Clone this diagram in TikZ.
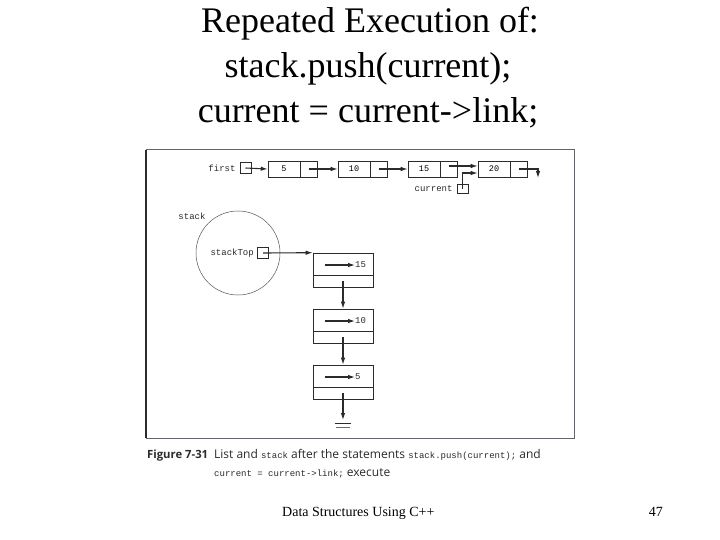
\documentclass[tikz,border=0pt]{standalone}
\usepackage{fontspec}
\setmainfont{Liberation Serif}
\setsansfont{Open Sans}
\setmonofont{Liberation Mono}
\usepackage{xcolor}
\usetikzlibrary{arrows.meta,positioning,calc}
\definecolor{figink}{HTML}{2B2B2B}
\definecolor{figframe}{HTML}{62666C}
\newcommand\capcodefont{\ttfamily\fontsize{9}{10}\selectfont}

\begin{document}
\begin{tikzpicture}[x=1pt, y=-1pt,
    titleline/.style={anchor=base, font=\fontsize{36}{45}\selectfont},
    codetext/.style={font=\ttfamily\fontsize{9}{10}\selectfont, text=figink, inner sep=0pt},
    infocell/.style={draw=figink, line width=0.6pt, minimum width=32pt, minimum height=16pt, inner sep=0pt, font=\ttfamily\fontsize{8.5}{10}\selectfont},
    linkcell/.style={draw=figink, line width=0.6pt, minimum width=17pt, minimum height=16pt, inner sep=0pt},
    ptrbox/.style={draw=figink, line width=0.6pt, minimum width=11pt, minimum height=11pt, inner sep=0pt},
    stackinfo/.style={draw=figink, line width=0.6pt, minimum width=60pt, minimum height=22pt, inner sep=0pt},
    stacklink/.style={draw=figink, line width=0.6pt, minimum width=60pt, minimum height=12pt, inner sep=0pt},
    arrow/.style={-{Latex[length=7pt, width=4.5pt]}, line width=1.1pt, color=figink},
    captext/.style={anchor=base west, inner sep=0pt, font=\sffamily\fontsize{12}{14}\selectfont, text=figink}
  ]
    \fill[white] (0,0) rectangle (720,540);
    \useasboundingbox (0,0) rectangle (720,540);

    % slide title
    \node[titleline] (title1) at (370,33) {Repeated Execution of:};
    \node[titleline] (title2) at (368,78) {stack.push(current);};
    \node[titleline] (title3) at (368,123) {current = current->link;};

    % figure frame
    \draw[figframe, line width=1pt] (146,150) rectangle (574,438);
    \draw[figink, line width=2pt] (146,150) -- (146,438);

    % linked list
    \node[ptrbox] (first) at (245.5,168) {};
    \node[codetext, left=4pt of first] (firstlbl) {first};
    \node[infocell] (n5) at (284,169) {5};
    \node[linkcell] (l5) at (308.5,169) {};
    \node[infocell] (n10) at (354,169) {10};
    \node[linkcell] (l10) at (378.5,169) {};
    \node[infocell] (n15) at (424,169) {15};
    \node[linkcell] (l15) at (448.5,169) {};
    \node[infocell] (n20) at (494,169) {20};
    \node[linkcell] (l20) at (518.5,169) {};
    \coordinate (nil) at (538,178);
    \node[ptrbox, minimum height=9pt] (cur) at (462.5,189) {};
    \node[codetext, left=4pt of cur] (curlbl) {current};

    \draw[arrow] (first.center) -- (n5.west);
    \draw[arrow] (l5.center) -- (n10.west);
    \draw[arrow] (l10.center) -- (n15.west);
    \draw[arrow] ($(l15.center)+(0,-3)$) -- ($(n20.west)+(0,-3)$);
    \draw[arrow] (cur.center) |- ($(n20.west)+(0,4)$);
    \draw[arrow] (l20.center) -| (nil);

    % stack
    \node[codetext] (stacklbl) at (192,216) {stack};
    \node[draw=figink!80, line width=0.5pt, circle, minimum size=84pt] (stk) at (238,253) {};
    \node[codetext, anchor=east] (toplbl) at (254,253) {stackTop};
    \node[ptrbox] (top) at (263,253) {};

    \node[stackinfo] (s15) at (343,264) {};
    \node[stacklink] (s15l) at (343,281) {};
    \node[codetext, anchor=west] (v15) at (355,265) {15};
    \node[stackinfo] (s10) at (343,320) {};
    \node[stacklink] (s10l) at (343,337) {};
    \node[codetext, anchor=west] (v10) at (355,321) {10};
    \node[stackinfo] (s5) at (343,376) {};
    \node[stacklink] (s5l) at (343,393) {};
    \node[codetext, anchor=west] (v5) at (355,377) {5};
    \coordinate (gnd) at (343,420);

    \draw[arrow] (top.center) -- (s15.north west);
    \draw[arrow] ($(s15.west)+(12,1)$) -- (v15.west);
    \draw[arrow] ($(s10.west)+(12,1)$) -- (v10.west);
    \draw[arrow] ($(s5.west)+(12,1)$) -- (v5.west);
    \draw[arrow] (s15l.center) -- (s10.north);
    \draw[arrow] (s10l.center) -- (s5.north);
    \draw[arrow] (s5l.center) -- (gnd);
    \draw[figink, line width=0.7pt] ($(gnd)+(-8,3)$) -- ($(gnd)+(8,3)$);
    \draw[figink!70, line width=0.6pt] ($(gnd)+(-7,7)$) -- ($(gnd)+(7,7)$);

    % caption
    \node[anchor=base west, inner sep=0pt, font=\sffamily\bfseries\fontsize{11.3}{13}\selectfont, text=figink] (fignum) at (147,458) {Figure 7-31};
    \node[captext] (cap1) at (214,458) {List and {\capcodefont stack} after the statements {\capcodefont stack.push(current);} and};
    \node[captext] (cap2) at (214,476) {{\capcodefont current = current->link;} execute};

    % slide footer
    \node[anchor=base west, inner sep=0pt, font=\fontsize{14}{16}\selectfont] (foot) at (282,516) {Data Structures Using C++};
    \node[anchor=base east, inner sep=0pt, font=\fontsize{14}{16}\selectfont] (page) at (663,516) {47};
  \end{tikzpicture}
\end{document}
